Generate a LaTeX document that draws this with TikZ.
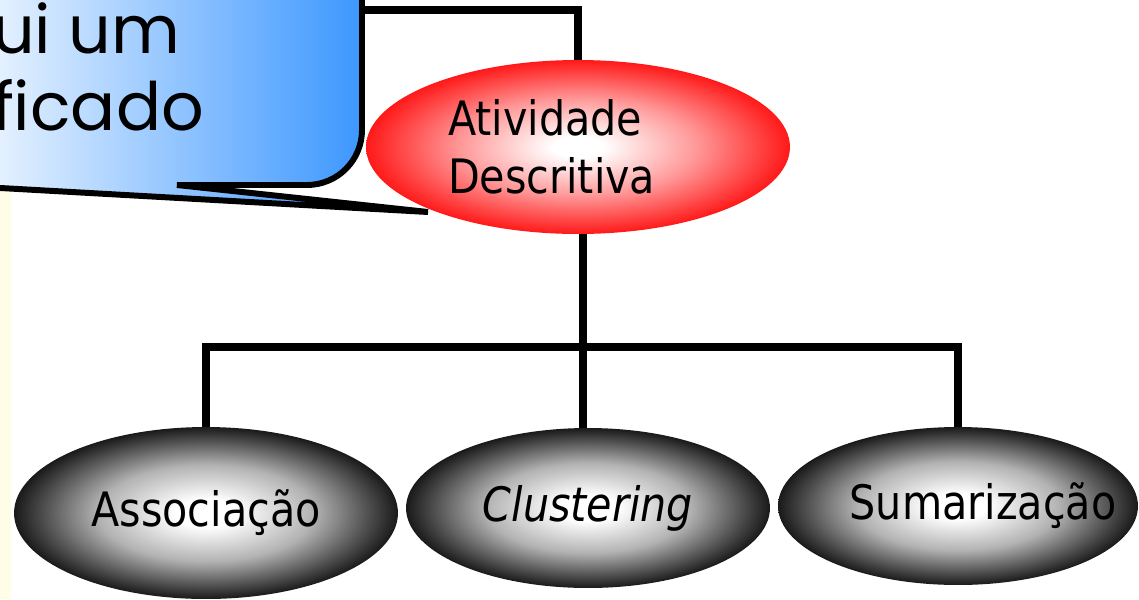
\documentclass[tikz,border=0pt]{standalone}
\usepackage{fontspec}
\setmainfont{DejaVu Sans}[FakeStretch=0.87]
\newfontfamily\notefont{Poppins}
\usetikzlibrary{shapes.geometric}

\definecolor{hotred}{RGB}{255,25,25}
\definecolor{calloutblue}{RGB}{30,135,255}
\definecolor{slidecream}{RGB}{255,253,232}

\pgfdeclareradialshading{redglow}{\pgfpoint{0bp}{0bp}}{color(0bp)=(white); color(3bp)=(white); color(14bp)=(hotred!45!white); color(25bp)=(hotred); color(72bp)=(hotred)}
\pgfdeclareradialshading{grayglow}{\pgfpoint{0bp}{0bp}}{color(0bp)=(white); color(4bp)=(white); color(14bp)=(black!30); color(25bp)=(black!90); color(72bp)=(black!90)}

\begin{document}
\begin{tikzpicture}[x=0.02cm,y=-0.02cm,inner sep=0pt,outer sep=0pt,line width=4.2pt,
topblock/.style={ellipse,shading=redglow,minimum width=8.48cm,minimum height=3.48cm,font=\fontsize{27}{33}\selectfont},
subblock/.style={ellipse,shading=grayglow,font=\fontsize{27}{33}\selectfont},
callout/.style={draw,line width=3.4pt,left color=white,right color=calloutblue}]

\useasboundingbox (0,0) rectangle (1139,599);
\clip (0,0) rectangle (1139,599);

%%% Slide background strip
\fill[slidecream] (0,150) rectangle (11,599);

%%% Ellipses %%%%%
\draw (578,147) node[topblock,text width=5.2cm,align=left] (act) {Atividade\\Descritiva};

	%%% Below the bar
	\draw (206,513) node[subblock,minimum width=7.68cm,minimum height=3.44cm] (assoc) {Associação};
	\draw (588,508) node[subblock,minimum width=7.28cm,minimum height=3.2cm] (clust) {\itshape Clustering};
	\draw (958,506) node[subblock,minimum width=7.2cm,minimum height=3.16cm] (sumar) {\makebox[0pt]{\hspace*{1cm}Sumarização}};
%%%%%%%%%%%%%%%%%%%%%%%%%

%%% Connections
	%%% Parent line comes from behind the callout (par)
	\coordinate (par) at (300,10);
	\coordinate (bar) at (583,347);
\draw (par) -| (act.north);
\draw (act.south -| bar) -- (bar |- clust.north);
\draw (assoc.north) |- (bar) -| (sumar.north);

%%% Callout, cut by the page edge
\draw[callout] (-60,-100) -- (362,-100) -- (362,130) arc[start angle=0,end angle=90,radius=55]
	-- (177,185) -- (428,212) -- (-53,185) -- cycle;
\draw (-8,130) node[anchor=base west,align=left,font=\notefont\fontsize{38}{43.7}\selectfont] (note) {ui um\\ficado};

\end{tikzpicture}
\end{document}
